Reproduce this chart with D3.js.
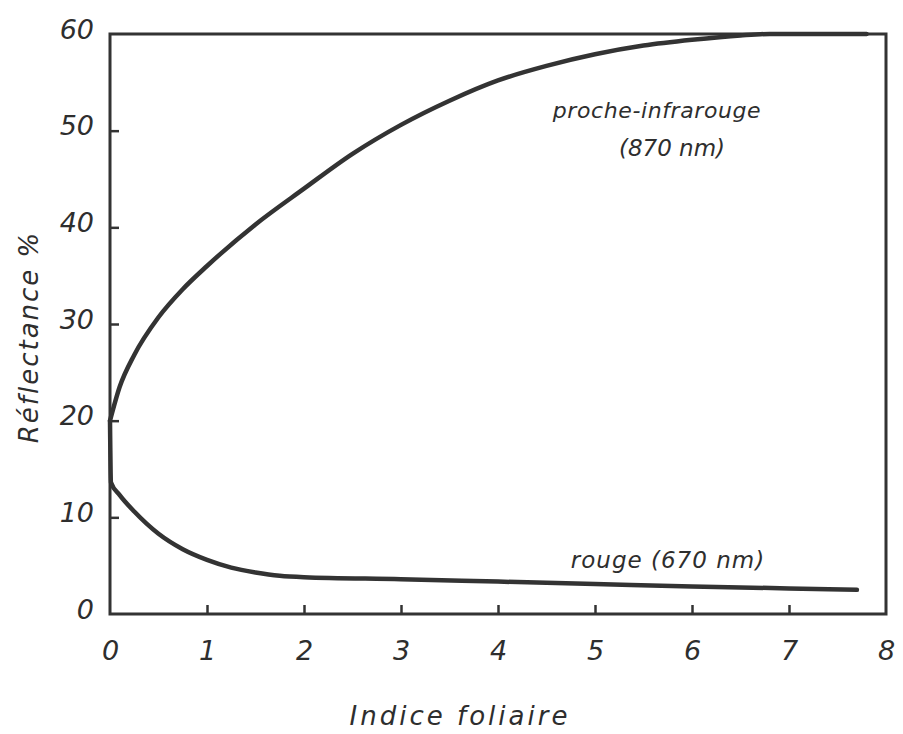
<!DOCTYPE html>
<html><head><meta charset="utf-8">
<script src="https://cdn.jsdelivr.net/npm/d3@7"></script>
<style>
body{margin:0;background:#fff;}
text{font-family:"DejaVu Sans",sans-serif;font-style:italic;fill:#2e2e2e;}
</style></head>
<body><svg id="c" width="903" height="734"></svg>
<script>
// Data
const xTicks = [0,1,2,3,4,5,6,7,8];
const yTicks = [0,10,20,30,40,50,60];
const nirX = [0,0.1,0.25,0.5,0.75,1,1.5,2,2.5,3,3.5,4,4.5,5,5.5,6,6.5,6.8,7.8];
const nirY = [20,23.5,26.8,30.7,33.6,36,40.3,44,47.6,50.6,53.1,55.2,56.7,57.9,58.8,59.4,59.85,60,60];
const redX = [0,0.01,0.1,0.25,0.5,0.75,1,1.25,1.5,1.75,2,3,4,5,6,7,7.7];
const redY = [20,13.6,12.3,10.6,8.3,6.7,5.6,4.8,4.3,3.95,3.8,3.6,3.35,3.1,2.85,2.65,2.5];
const labels = {nir:["proche-infrarouge","(870 nm)"], red:"rouge (670 nm)", xTitle:"Indice foliaire", yTitle:"Réflectance %"};

const svg = d3.select("#c");
const x = d3.scaleLinear().domain([0,8]).range([110,886]);
const y = d3.scaleLinear().domain([0,60]).range([614,34]);
const ink = "#333";

// frame
svg.append("path")
  .attr("d", `M${x(0)},${y(60)} L${x(8)},${y(60)} L${x(8)},${y(0)} L${x(0)},${y(0)} Z`)
  .attr("fill","none").attr("stroke",ink).attr("stroke-width",3);

// inner ticks
const xa = svg.append("g").attr("transform",`translate(0,${y(0)})`)
  .call(d3.axisBottom(x).tickValues(xTicks).tickSizeInner(-9).tickSizeOuter(0).tickPadding(27).tickFormat(d3.format("d")));
xa.select(".domain").remove();
xa.selectAll(".tick line").attr("stroke",ink).attr("stroke-width",2.5)
  .attr("display",d=>(d===0||d===8)?"none":null);
xa.selectAll(".tick text").attr("font-size",27).attr("dy","0.71em");

const ya = svg.append("g").attr("transform",`translate(${x(0)},0)`)
  .call(d3.axisLeft(y).tickValues(yTicks).tickSizeInner(-9).tickSizeOuter(0).tickPadding(16).tickFormat(d3.format("d")));
ya.select(".domain").remove();
ya.selectAll(".tick line").attr("stroke",ink).attr("stroke-width",2.5)
  .attr("display",d=>(d===0||d===60)?"none":null);
ya.selectAll(".tick text").attr("font-size",27).attr("dy","0.15em");

// curves
const line = d3.line().x(d=>x(d[0])).y(d=>y(d[1])).curve(d3.curveMonotoneX);
svg.append("path").datum(nirX.map((v,i)=>[v,nirY[i]]))
  .attr("d",line).attr("fill","none").attr("stroke",ink).attr("stroke-width",4.5).attr("stroke-linecap","round");
svg.append("path").datum(redX.map((v,i)=>[v,redY[i]]))
  .attr("d",line).attr("fill","none").attr("stroke",ink).attr("stroke-width",4.5).attr("stroke-linecap","round");

// labels
svg.append("text").attr("x",657).attr("y",118).attr("text-anchor","middle").attr("font-size",22).attr("letter-spacing",0.6).text(labels.nir[0]);
svg.append("text").attr("x",672).attr("y",156).attr("text-anchor","middle").attr("font-size",23).text(labels.nir[1]);
svg.append("text").attr("x",668).attr("y",568).attr("text-anchor","middle").attr("font-size",23).attr("letter-spacing",1).text(labels.red);
svg.append("text").attr("x",460).attr("y",725).attr("text-anchor","middle").attr("font-size",26).attr("letter-spacing",3).text(labels.xTitle);
svg.append("text").attr("transform","translate(38,337) rotate(-90)").attr("text-anchor","middle").attr("font-size",26).attr("letter-spacing",2).text(labels.yTitle);
</script></body></html>
